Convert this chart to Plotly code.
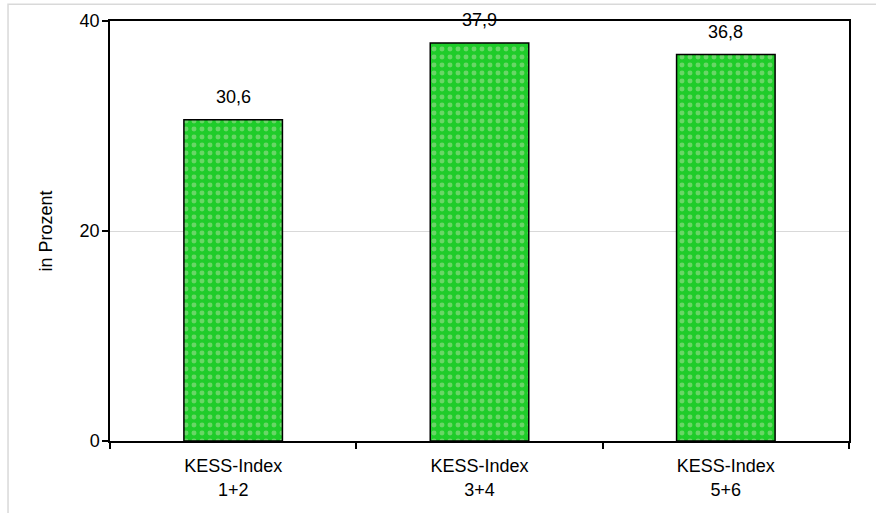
import plotly.graph_objects as go

categories = ["KESS-Index<br>1+2", "KESS-Index<br>3+4", "KESS-Index<br>5+6"]
values = [30.6, 37.9, 36.8]
y_ticks = [0, 20, 40]

FONT = "Liberation Sans, Arial, sans-serif"
GREEN = "#1fcc2a"
DOTS = "#b4e0a4"
SIZE = 18

labels = [f"{v:.1f}".replace(".", ",") for v in values]

fig = go.Figure()
fig.add_trace(go.Bar(
    x=categories,
    y=values,
    width=0.4,
    marker=dict(
        color=GREEN,
        line=dict(color="black", width=1.5),
        pattern=dict(shape=".", fgcolor=DOTS, bgcolor=GREEN, size=8, solidity=0.3),
    ),
    hoverinfo="skip",
))

# value labels above each bar
for cat, v, lab in zip(categories, values, labels):
    fig.add_annotation(
        x=cat, y=v, text=lab, showarrow=False,
        yanchor="bottom", yshift=11,
        font=dict(family=FONT, size=SIZE, color="black"),
    )

# light frame around the chart area
fig.add_shape(
    type="rect", xref="paper", yref="paper",
    x0=-0.138, x1=1.2, y0=-0.3, y1=1.04,
    line=dict(color="#d9d9d9", width=1.5), fillcolor="rgba(0,0,0,0)",
    layer="below",
)

fig.update_layout(
    width=876, height=513,
    margin=dict(l=110, r=27, t=21, b=72),
    paper_bgcolor="white", plot_bgcolor="white",
    showlegend=False,
    font=dict(family=FONT, size=SIZE, color="black"),
    xaxis=dict(
        showline=True, linecolor="black", linewidth=1.5, mirror=True,
        ticks="outside", tickson="boundaries", ticklen=6, tickcolor="black", tickwidth=1.5,
        showgrid=False, tickfont=dict(size=SIZE), ticklabelstandoff=8,
    ),
    yaxis=dict(
        range=[0, 40], tickvals=y_ticks,
        showline=True, linecolor="black", linewidth=1.5, mirror=True,
        ticks="outside", ticklen=6, tickcolor="black", tickwidth=1.5,
        showgrid=True, gridcolor="#d9d9d9", gridwidth=1,
        zeroline=False, tickfont=dict(size=SIZE), ticklabelstandoff=-1,
        title=dict(text="in Prozent", font=dict(size=SIZE), standoff=22),
    ),
)

fig.write_html("out.html")
